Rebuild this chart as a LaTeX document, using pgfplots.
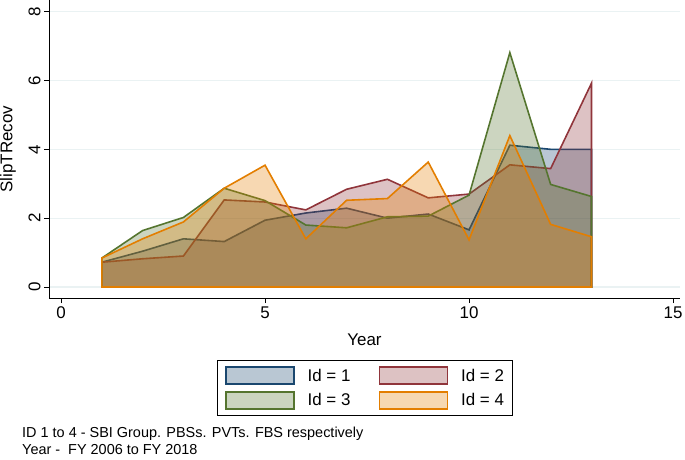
\documentclass[border=0pt]{standalone}
\usepackage{pgfplots}
\usepackage{pgfplotstable}
\pgfplotsset{compat=1.18}
\usepackage{fontspec}
\setmainfont{Liberation Sans}
\definecolor{sNavy}{RGB}{26,71,111}
\definecolor{sMaroon}{RGB}{144,53,59}
\definecolor{sGreen}{RGB}{85,117,47}
\definecolor{sOrange}{RGB}{227,126,0}
\definecolor{sGrid}{RGB}{234,242,243}
\pgfplotstableread{
x y1 y2 y3 y4
1 0.72 0.72 0.84 0.84
2 1.04 0.82 1.64 1.40
3 1.40 0.90 2.02 1.89
4 1.32 2.53 2.87 2.87
5 1.94 2.47 2.51 3.54
6 2.15 2.24 1.80 1.40
7 2.29 2.84 1.72 2.52
8 2.00 3.13 2.04 2.57
9 2.12 2.59 2.06 3.63
10 1.66 2.70 2.67 1.37
11 4.12 3.55 6.81 4.40
12 4.00 3.44 2.98 1.82
13 4.00 5.92 2.63 1.46
}\datatable
\begin{document}
\begin{tikzpicture}
\useasboundingbox (-49bp,-162bp) rectangle (636bp,298bp);
\begin{axis}[
  scale only axis, width=631bp, height=298bp,
  xmin=-0.294, xmax=15.17, ymin=-0.32, ymax=8.34,
  axis x line*=bottom, axis y line*=left,
  axis line style={line width=0.9bp, -, black},
  xtick={0,5,10,15}, ytick={0,2,4,6,8},
  tick align=outside, major tick length=5bp,
  tick style={line width=0.9bp, black},
  ymajorgrids, grid style={sGrid, line width=1.2bp},
  font=\fontsize{17}{20}\selectfont,
  /pgf/number format/assume math mode=true,
  yticklabel style={rotate=90, anchor=south},
  xlabel={Year}, ylabel={SlipTRecov},
  xlabel style={at={(axis description cs:0.5,-0.141)}, anchor=center},
  ylabel style={at={(axis description cs:-0.065,0.5)}, anchor=center},
  legend image code/.code={\draw[#1] (0bp,-8.5bp) rectangle (68bp,8.5bp);},
  legend style={at={(0.5,-0.302)}, anchor=center, draw=black, line width=0.8bp,
    font=\fontsize{17}{20}\selectfont,
    inner xsep=8bp, inner ysep=6bp, row sep=6bp,
    /tikz/every odd column/.append style={column sep=13bp},
    /tikz/every even column/.append style={column sep=28bp},
    nodes={inner sep=0pt, anchor=west}},
  legend columns=2, legend cell align=left,
  every axis plot/.append style={line width=1.6bp, fill opacity=0.3, draw opacity=1},
]
\addplot[draw=sNavy, fill=sNavy] table[x=x, y=y1] {\datatable} \closedcycle;
\addlegendentry{Id = 1}
\addplot[draw=sMaroon, fill=sMaroon] table[x=x, y=y2] {\datatable} \closedcycle;
\addlegendentry{Id = 2}
\addplot[draw=sGreen, fill=sGreen] table[x=x, y=y3] {\datatable} \closedcycle;
\addlegendentry{Id = 3}
\addplot[draw=sOrange, fill=sOrange] table[x=x, y=y4] {\datatable} \closedcycle;
\addlegendentry{Id = 4}
\end{axis}
\node[anchor=base west, font=\fontsize{14.5}{17}\selectfont, inner sep=0pt] at (-27bp,-139bp) {ID 1 to 4 - SBI Group. PBSs. PVTs. FBS respectively};
\node[anchor=base west, font=\fontsize{14.5}{17}\selectfont, inner sep=0pt] at (-27bp,-156bp) {Year -\ \ FY 2006 to FY 2018};
\end{tikzpicture}
\end{document}
